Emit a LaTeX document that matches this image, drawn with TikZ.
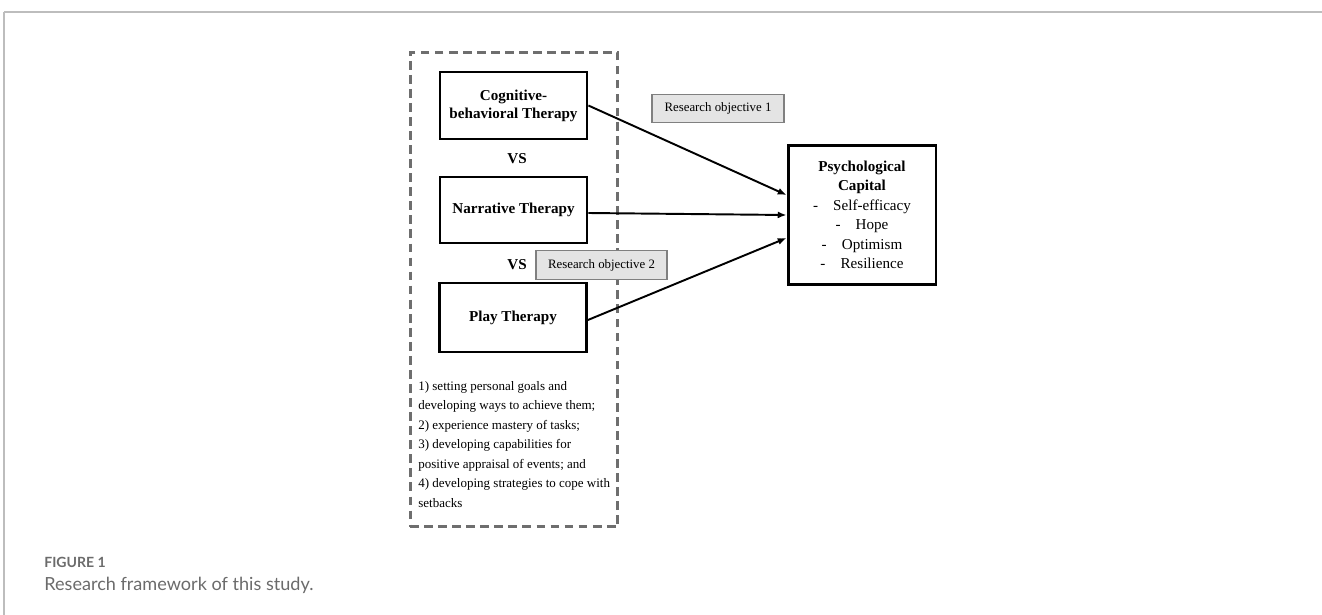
\documentclass[tikz,border=0pt]{standalone}
\usepackage{fontspec}
\setmainfont{Liberation Serif}
\newfontfamily\captionfont{Lato}
\usetikzlibrary{arrows.meta}
\definecolor{framegray}{HTML}{BDBDBD}
\definecolor{dashgray}{HTML}{6E6E6E}
\definecolor{boxgray}{HTML}{E4E4E4}
\definecolor{captiongray}{HTML}{6B6B6B}
\begin{document}
\begin{tikzpicture}[x=0.02cm,y=-0.02cm]
\tikzset{therapy/.style = {draw,line width=1.6pt,minimum width=2.94cm,align=center,font=\fontsize{8.6}{10.2}\selectfont\bfseries}}
\tikzset{objective/.style = {draw=gray,fill=boxgray,line width=0.6pt,minimum height=0.57cm,font=\fontsize{7.3}{9}\selectfont}}
\tikzset{edge/.style = {line width=1.1pt,-{Latex[length=5pt,width=4pt]}}}
\useasboundingbox (0,0) rectangle (1322,615);
% page frame
\draw[framegray,line width=1.2pt] (4,12) -- (1322,12);
\draw[framegray,line width=0.6pt] (4,12) -- (4,615);
% dashed group of therapies
\node[draw=dashgray,line width=1.7pt,dash pattern=on 5pt off 3pt,inner sep=0,minimum width=4.16cm,minimum height=9.5cm] (group) at (514,289.5) {};
% therapies on the left
\node[therapy,minimum height=1.34cm] (cbt) at (513.5,105.5) {Cognitive-\\behavioral Therapy};
\node[font=\fontsize{8.6}{10}\selectfont\bfseries] (vsa) at (517,159) {VS};
\node[therapy,minimum height=1.32cm] (nt) at (513.5,210) {Narrative Therapy};
\node[font=\fontsize{8.6}{10}\selectfont\bfseries] (vsb) at (517,265) {VS};
\node[therapy,minimum height=1.38cm] (pt) at (513,317.5) {Play Therapy};
\node[anchor=north west,inner sep=0,align=left,font=\fontsize{7.4}{11.1}\selectfont] (steps) at (418,381) {1) setting personal goals and\\developing ways to achieve them;\\2) experience mastery of tasks;\\3) developing capabilities for\\positive appraisal of events; and\\4) developing strategies to cope with\\setbacks};
% outcome on the right
\node[draw,line width=1.7pt,minimum width=2.96cm,minimum height=2.8cm,align=center,font=\fontsize{8.6}{11.1}\selectfont] (psych) at (862,215)
  {\textbf{Psychological}\\\textbf{Capital}\\-\hspace{1em}Self-efficacy\\-\hspace{1em}Hope\\-\hspace{1em}Optimism\\-\hspace{1em}Resilience};
% objectives
\node[objective,minimum width=2.64cm] (obja) at (718,108.5) {Research objective 1};
\node[objective,minimum width=2.62cm] (objb) at (601.5,265) {Research objective 2};
% effects of each therapy
\draw[edge] (cbt.east) to ([yshift=0.4cm]psych.west);
\draw[edge] ([yshift=-0.06cm]nt.east) to (psych.west);
\draw[edge] ([yshift=-0.05cm]pt.east) to ([yshift=-0.46cm]psych.west);
% caption
\node[anchor=west,inner sep=0,text=captiongray,font=\captionfont\fontsize{8}{9}\selectfont\bfseries] (fig) at (44,562) {FIGURE 1};
\node[anchor=west,inner sep=0,text=captiongray,font=\captionfont\fontsize{10.3}{12}\selectfont] (cap) at (44,585) {Research framework of this study.};
\end{tikzpicture}
\end{document}
